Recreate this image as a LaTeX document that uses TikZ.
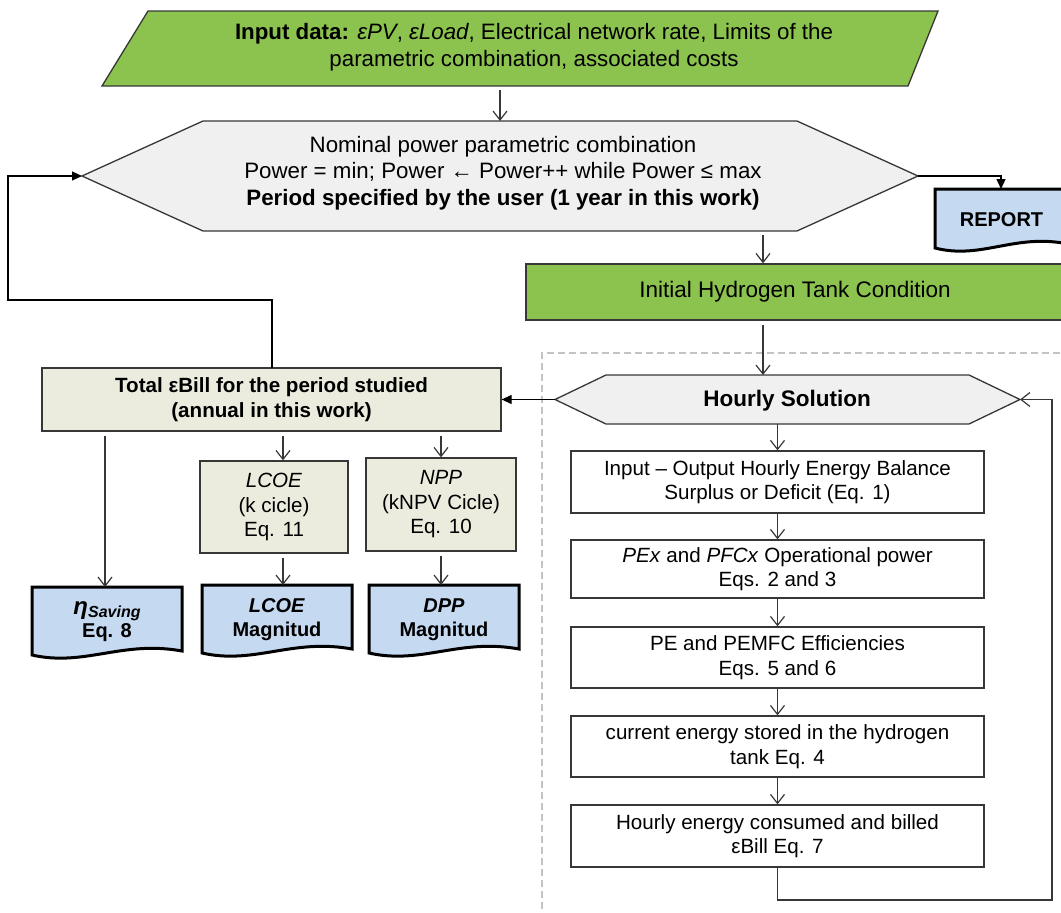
\documentclass[tikz,border=0pt]{standalone}
\usepackage{fontspec}
\setmainfont{Liberation Sans}
\usetikzlibrary{arrows.meta,calc}
\definecolor{grn}{RGB}{140,194,78}
\definecolor{hexgray}{RGB}{240,240,240}
\definecolor{beige}{RGB}{235,236,222}
\definecolor{docblue}{RGB}{197,217,241}
\definecolor{edge}{RGB}{55,55,55}
\definecolor{dashgray}{RGB}{195,195,195}
\newcommand\fTop{\fontsize{22.3}{26.5}\selectfont}
\newcommand\fLow{\fontsize{20.6}{24.5}\selectfont}
\newcommand\fDoc{\fontsize{20}{24}\selectfont}
\newcommand\fHex{\fontsize{22.5}{26}\selectfont}
\tikzset{
  shapeline/.style={draw=edge, line width=1.3pt},
  boxnode/.style={shapeline, inner sep=0pt, align=center, font=\fLow},
  txt/.style={inner sep=0pt, align=center},
  docline/.style={draw=black, line width=3pt, fill=docblue, line join=miter},
  doctext/.style={inner sep=0pt, align=center, font=\fDoc\bfseries},
  openarr/.style={draw=edge, line width=1.2pt, -{Straight Barb[length=9pt,width=14pt]}},
  fillarr/.style={draw=black, line width=1.2pt, -{Triangle[length=10pt,width=9pt]}},
  gap/.style={shorten <=4pt}
}
\newcommand\rectnode[7]{%
  \node[boxnode,#6, minimum width={#4-#2}, minimum height={#5-#3}] (#1) at ({(#2+#4)/2},{(#3+#5)/2}) {#7};}
\newcommand\docbox[6]{%
  \path[docline] (#2,#3) -- (#4,#3) -- ({#4},{#5-4})
    .. controls ({#2+0.6*(#4-#2)},{#5-15}) and ({#2+0.35*(#4-#2)},{#5+12}) .. (#2,#5) -- cycle;
  \coordinate (#1-top) at ({(#2+#4)/2},#3);
  \node[doctext] (#1) at ({(#2+#4)/2},{(#3+#5)/2+1}) {#6};}
\begin{document}
\begin{tikzpicture}[x=1pt,y=-1pt]
\useasboundingbox (0,0) rectangle (1061,913);
% dashed region
\draw[dashgray, line width=1.2pt, dash pattern=on 7pt off 4pt] (542,920) -- (542,353) -- (1070,353);

% input parallelogram
\path[shapeline, fill=grn] (148,11) -- (938,11) -- (908,86) -- (102,86) -- cycle;
\node[txt, font=\fTop] (inp) at (534,47) {\textbf{Input data:} \textit{εPV}, \textit{εLoad}, Electrical network rate, Limits of the\\parametric combination, associated costs};
\coordinate (inpB) at (500,86);

% hexagon 1
\path[shapeline, fill=hexgray] (82,176) -- (203,121) -- (797,121) -- (918,176) -- (797,231) -- (203,231) -- cycle;
\coordinate (hexAW) at (82,176);
\coordinate (hexAE) at (918,176);
\coordinate (hexAN) at (500,121);
\coordinate (hexAS) at (763,231);
\node[txt, font=\fTop] (hexA) at (503,173) {Nominal power parametric combination\\Power = min; Power ← Power++ while Power ≤ max\\\textbf{Period specified by the user (1 year in this work)}};

% report doc
\docbox{report}{935}{189}{1068}{248}{REPORT}
\coordinate (repN) at (1001,189);

% initial box
\rectnode{init}{526}{264}{1064}{320}{fill=grn, font=\fHex}{Initial Hydrogen Tank Condition}

% hexagon 2
\path[shapeline, fill=hexgray] (555,399.5) -- (606,375) -- (969,375) -- (1020,399.5) -- (969,424) -- (606,424) -- cycle;
\coordinate (hexBW) at (555,399.5);
\coordinate (hexBE) at (1020,399.5);
\coordinate (hexBN) at (763,375);
\coordinate (hexBS) at (777.5,424);
\node[txt, font=\fHex\bfseries] (hexB) at (787,401) {Hourly Solution};

% process boxes
\rectnode{b1}{571}{451}{984}{513}{fill=white}{Input – Output Hourly Energy Balance\\Surplus or Deficit (Eq. 1)}
\rectnode{b2}{571}{540}{984}{598}{fill=white}{\textit{PEx} and \textit{PFCx} Operational power\\Eqs. 2 and 3}
\rectnode{b3}{571}{627}{984}{688}{fill=white}{PE and PEMFC Efficiencies\\Eqs. 5 and 6}
\rectnode{b4}{571}{716}{984}{777}{fill=white}{current energy stored in the hydrogen\\tank Eq. 4}
\rectnode{b5}{571}{805}{984}{867}{fill=white}{Hourly energy consumed and billed\\εBill Eq. 7}
\coordinate (loopBR) at (1052,900);

% total and calc boxes
\rectnode{total}{42}{368}{501}{431}{fill=beige, font=\fLow\bfseries}{Total εBill for the period studied\\(annual in this work)}
\rectnode{lcoe}{200}{461}{348}{553}{fill=beige}{\textit{LCOE}\\(k cicle)\\Eq. 11}
\rectnode{npp}{366}{458}{516}{551}{fill=beige}{\textit{NPP}\\(kNPV Cicle)\\Eq. 10}
\coordinate (totT) at (272,368);
\coordinate (loopTL) at (8,300);
\coordinate (etaX) at (105,0);
\coordinate (lcoeX) at (283,0);

% output docs
\docbox{eta}{32}{587}{182}{655}{\fontsize{24}{24}\selectfont\textit{η}\fontsize{16}{16}\selectfont\raisebox{-3pt}{\textit{Saving}}\\[-1pt]Eq. 8}
\docbox{lcoed}{202}{585}{352}{653}{\textit{LCOE}\\Magnitud}
\docbox{dpp}{369}{585}{519}{653}{\textit{DPP}\\Magnitud}

% connectors
\draw[openarr, gap] (inpB) -- (hexAN);
\draw[fillarr] (hexAE) -| (repN);
\draw[openarr, gap] (hexAS) -- (init.north -| hexAS);
\draw[openarr, gap] (init.south -| hexBN) -- (hexBN);
\draw[openarr] (hexBS) -- (b1.north);
\draw[openarr] (b1.south) -- (b2.north);
\draw[openarr] (b2.south) -- (b3.north);
\draw[openarr] (b3.south) -- (b4.north);
\draw[openarr] (b4.south) -- (b5.north);
\draw[openarr] (b5.south) |- (loopBR) |- (hexBE);
\draw[fillarr] (hexBW) -- (total.east |- hexBW);
\draw[fillarr] (totT) |- (loopTL) |- (hexAW);
\draw[openarr, gap] (total.south -| etaX) -- (eta-top -| etaX);
\draw[openarr, gap] (total.south -| lcoeX) -- (lcoe.north -| lcoeX);
\draw[openarr, gap] (total.south -| npp.north) -- (npp.north);
\draw[openarr, gap] (lcoe.south -| lcoeX) -- (lcoed-top -| lcoeX);
\draw[openarr, gap] (npp.south) -- (dpp-top -| npp.south);
\end{tikzpicture}
\end{document}
